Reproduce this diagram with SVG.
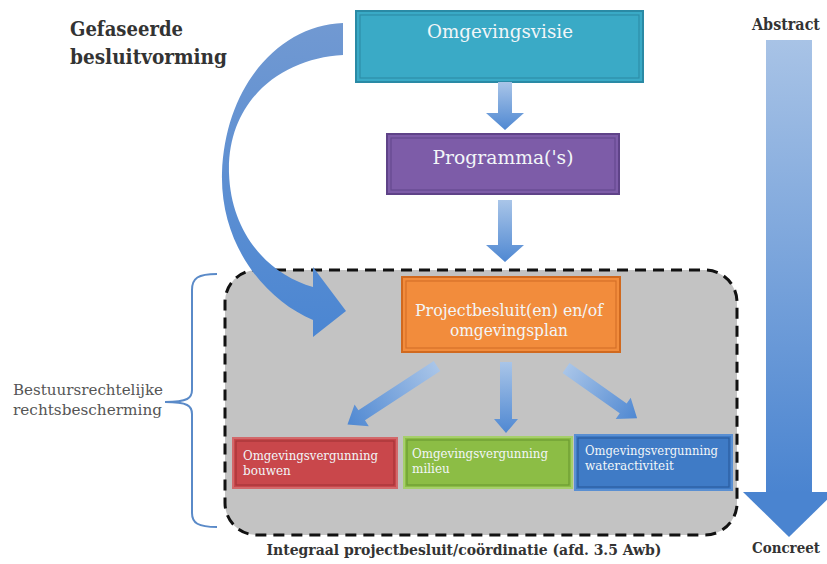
<svg xmlns="http://www.w3.org/2000/svg" width="827" height="564" viewBox="0 0 827 564">
<defs>
<linearGradient id="gArrow" x1="0" y1="0" x2="1" y2="0">
<stop offset="0" stop-color="#a9c5e8"/>
<stop offset="1" stop-color="#4f88d2"/>
</linearGradient>
<linearGradient id="gBig" x1="0" y1="0" x2="0" y2="1">
<stop offset="0" stop-color="#a8c3e6"/>
<stop offset="1" stop-color="#4a84d0"/>
</linearGradient>
<linearGradient id="gCurve" x1="0" y1="0" x2="0" y2="1">
<stop offset="0" stop-color="#7199d2"/>
<stop offset="1" stop-color="#4b86d2"/>
</linearGradient>
</defs>
<style>
.hdr{font-family:"DejaVu Serif","Liberation Serif",serif;font-weight:bold;fill:#333;}
.side{font-family:"DejaVu Serif","Liberation Serif",serif;fill:#555;font-size:15px;}
.lbl{font-family:"DejaVu Serif","Liberation Serif",serif;fill:#f2f6f8;}
.big{font-size:18px;}
.sm{font-size:12px;}
.inner{fill:none;stroke-width:1.2;}
</style>
<rect width="827" height="564" fill="#ffffff"/>

<text class="hdr" x="70" y="36" font-size="20" textLength="113" lengthAdjust="spacingAndGlyphs">Gefaseerde</text>
<text class="hdr" x="70" y="64" font-size="20" textLength="157" lengthAdjust="spacingAndGlyphs">besluitvorming</text>

<g id="side-arrow">
<rect x="766" y="40" width="46" height="453" fill="url(#gBig)"/>
<path d="M743,492 L835,492 L789,537 Z" fill="#4a84d0"/>
</g>
<text class="hdr" x="786" y="30" font-size="16" text-anchor="middle" textLength="68" lengthAdjust="spacingAndGlyphs" fill="#444">Abstract</text>
<text class="hdr" x="786" y="553" font-size="15.5" text-anchor="middle" textLength="68" lengthAdjust="spacingAndGlyphs" fill="#444">Concreet</text>

<g id="brace">
<path d="M217,274 C198,274 192,278 192,290 L192,390 C192,398 188,402 165,402 C188,402 192,406 192,414 L192,513 C192,523 198,527 217,527" fill="none" stroke="#5a8ac8" stroke-width="2"/>
</g>
<text class="side" x="13" y="395" textLength="150" lengthAdjust="spacingAndGlyphs">Bestuursrechtelijke</text>
<text class="side" x="13" y="415" textLength="149" lengthAdjust="spacingAndGlyphs">rechtsbescherming</text>

<g id="container">
<rect x="225" y="270" width="512" height="265" rx="32" fill="#c3c3c3" stroke="#111" stroke-width="3" stroke-dasharray="11 7"/>
</g>
<text class="hdr" x="464" y="555" font-size="14.5" text-anchor="middle" textLength="395" lengthAdjust="spacingAndGlyphs" fill="#444">Integraal projectbesluit/coördinatie (afd. 3.5 Awb)</text>

<g id="omgevingsvisie">
<rect x="356" y="11" width="287" height="71" fill="#3aaac6" stroke="#2a8aa5" stroke-width="2"/>
<rect x="360" y="15" width="279" height="63" class="inner" stroke="#2d8ea8"/>
<text class="lbl big" x="500" y="38" text-anchor="middle" textLength="146" lengthAdjust="spacingAndGlyphs">Omgevingsvisie</text>
</g>

<g id="programma">
<rect x="387" y="134" width="232" height="60" fill="#7d5ca8" stroke="#5f4388" stroke-width="2"/>
<rect x="391" y="138" width="224" height="52" class="inner" stroke="#65498f"/>
<text class="lbl big" x="503" y="164" text-anchor="middle" textLength="141" lengthAdjust="spacingAndGlyphs">Programma('s)</text>
</g>

<g id="projectbesluit">
<rect x="402" y="277" width="218" height="75" fill="#f28c3c" stroke="#d0691f" stroke-width="2"/>
<rect x="406" y="281" width="210" height="67" class="inner" stroke="#d57028"/>
<text class="lbl" x="509" y="316" font-size="16" text-anchor="middle" textLength="188" lengthAdjust="spacingAndGlyphs">Projectbesluit(en) en/of</text>
<text class="lbl" x="509" y="336" font-size="16" text-anchor="middle" textLength="118" lengthAdjust="spacingAndGlyphs">omgevingsplan</text>
</g>

<g id="bouwen">
<rect x="233" y="438" width="164" height="50" fill="#c9474b" stroke="#d2696b" stroke-width="2"/>
<rect x="236" y="441" width="158" height="44" class="inner" stroke="#a53538"/>
<text class="lbl sm" x="243" y="460" textLength="135" lengthAdjust="spacingAndGlyphs">Omgevingsvergunning</text>
<text class="lbl sm" x="243" y="475">bouwen</text>
</g>

<g id="milieu">
<rect x="404" y="437" width="168" height="51" fill="#8cbd45" stroke="#a6cf6c" stroke-width="2"/>
<rect x="407" y="440" width="162" height="45" class="inner" stroke="#6c9a32"/>
<text class="lbl sm" x="412" y="458" textLength="136" lengthAdjust="spacingAndGlyphs">Omgevingsvergunning</text>
<text class="lbl sm" x="412" y="473">milieu</text>
</g>

<g id="wateractiviteit">
<rect x="575" y="435" width="157" height="55" fill="#3f7bc6" stroke="#5a8fd2" stroke-width="2"/>
<rect x="578" y="438" width="151" height="49" class="inner" stroke="#2b5c9e"/>
<text class="lbl sm" x="585" y="455" textLength="133" lengthAdjust="spacingAndGlyphs">Omgevingsvergunning</text>
<text class="lbl sm" x="585" y="470">wateractiviteit</text>
</g>

<g id="connectors">
<path d="M343,23 C280,25 225,85 222,173 C220,245 265,300 313,320 L313,337 L346,311 L313,267 L313,287 C270,275 231,235 229,173 C227,100 282,58 343,55 Z" fill="url(#gCurve)"/>
<g transform="translate(505,82) rotate(90)">
<path d="M0,-7 L31,-7 L31,-19 L48,0 L31,19 L31,7 L0,7 Z" fill="url(#gArrow)"/>
</g>
<g transform="translate(505,200) rotate(90)">
<path d="M0,-7 L45,-7 L45,-19 L62,0 L45,19 L45,7 L0,7 Z" fill="url(#gArrow)"/>
</g>
<g transform="translate(506,362) rotate(90)">
<path d="M0,-6 L57,-6 L57,-12 L71,0 L57,12 L57,6 L0,6 Z" fill="url(#gArrow)"/>
</g>
<g transform="translate(437,366) rotate(146.8)">
<path d="M0,-6 L90,-6 L90,-13 L107,0 L90,13 L90,6 L0,6 Z" fill="url(#gArrow)"/>
</g>
<g transform="translate(566,368) rotate(35.2)">
<path d="M0,-6 L70,-6 L70,-13 L87,0 L70,13 L70,6 L0,6 Z" fill="url(#gArrow)"/>
</g>
</g>
</svg>
